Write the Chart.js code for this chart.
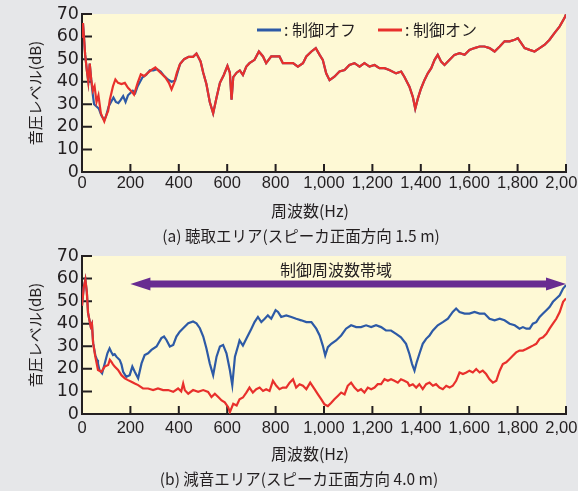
<!DOCTYPE html>
<html lang="ja">
<head>
<meta charset="utf-8">
<title>音圧レベル</title>
<script src="https://cdn.jsdelivr.net/npm/chart.js@4.4.1/dist/chart.umd.min.js"></script>
<style>
  html, body { margin: 0; padding: 0; background: #e6e7e9; }
  #page { position: relative; width: 578px; height: 491px; overflow: hidden; font-family: "Noto Sans CJK JP", sans-serif; color: #231f20; }
  canvas { position: absolute; left: 0; }
  #chart-a { top: 0; }
  #chart-b { top: 242px; }
  .label { position: absolute; left: 0; text-align: center; font-size: 16px; line-height: 20px; white-space: nowrap; }
  .caption { font-size: 15.5px; }
</style>
</head>
<body>
<div id="page">
  <canvas id="chart-a" width="578" height="200"></canvas>
  <canvas id="chart-b" width="578" height="200"></canvas>
  <div class="label" style="top:200px;width:620px">周波数(Hz)</div>
  <div class="label caption" style="top:225px;width:602px">(a) 聴取エリア(スピーカ正面方向 1.5 m)</div>
  <div class="label" style="top:443px;width:620px">周波数(Hz)</div>
  <div class="label caption" style="top:468px;width:598px">(b) 減音エリア(スピーカ正面方向 4.0 m)</div>
</div>
<script>
// Axis ranges and labels
const freqMin = 0;
const freqMax = 2000;
const freqStep = 200;
const levelMin = 0;
const levelMax = 70;
const levelStep = 10;
const seriesLabels = ['制御オフ', '制御オン'];
const bandLabel = '制御周波数帯域';
const bandRange = [200, 2000];
const bandLevel = 57.6;
const bandLabelFreq = 1050;

// (a) listening area, [Hz, dB]; below ~400 Hz the two curves differ
const topOffLow = [[0, 60], [4, 66], [8, 60], [13, 52], [20, 45], [26, 40], [32, 48], [38, 41], [45, 34], [50, 30],
  [60, 29], [70, 28], [80, 25], [92, 23], [100, 25], [110, 29], [120, 31], [130, 33], [140, 31], [150, 30.5],
  [160, 32], [170, 33.6], [180, 31], [190, 34], [200, 35], [210, 36], [220, 35], [230, 38], [240, 40], [250, 42],
  [265, 43], [280, 45], [295, 45], [310, 45.5], [325, 44.5], [340, 42.5], [355, 41], [370, 40], [385, 40.5]];
const topOnLow = [[0, 60], [4, 66], [8, 60], [13, 52], [20, 45], [26, 40], [32, 48], [38, 41], [45, 36], [52, 38],
  [60, 31], [68, 34], [78, 26], [92, 22.4], [100, 25], [108, 27], [115, 32], [128, 38], [138, 41], [149, 39.5],
  [163, 39], [177, 39.5], [190, 37.3], [204, 35.8], [215, 34.3], [230, 39.5], [243, 43.3], [257, 42.5], [273, 44], [290, 45.5],
  [303, 46.3], [317, 44.8], [331, 43.3], [345, 41.8], [359, 39.5], [370, 36.6], [381, 39.5], [392, 44]];
const topShared = [[405, 47.8], [422, 50], [441, 51], [459, 51], [473, 52.5], [490, 49], [501, 44], [514, 39], [528, 31], [542, 26],
  [556, 33], [570, 39.5], [586, 43], [601, 47], [611, 44], [618, 32], [625, 42], [639, 44], [652, 45], [665, 43],
  [679, 46.7], [692, 48.2], [713, 49.7], [731, 53.4], [748, 51.2], [761, 48.2], [782, 51.2], [803, 51.2], [816, 51.2], [830, 48.2],
  [851, 48.2], [872, 48.2], [892, 46.7], [913, 48.2], [927, 51.2], [948, 53.4], [966, 54.9], [982, 51.9], [995, 49.7], [1009, 43.7],
  [1023, 40.7], [1043, 42.2], [1064, 44.5], [1085, 45.2], [1105, 47.4], [1126, 48.2], [1147, 46.7], [1167, 48.2], [1188, 46.7], [1209, 47.4],
  [1229, 46], [1250, 46], [1270, 45.2], [1298, 43.7], [1319, 44.5], [1332, 42.2], [1353, 37.8], [1367, 33.3], [1377, 28.1], [1388, 32.6],
  [1401, 37], [1415, 40.7], [1429, 43.7], [1443, 46], [1457, 49.7], [1470, 51.9], [1484, 48.9], [1498, 47.4], [1519, 49.7], [1539, 51.9],
  [1560, 52.6], [1581, 51.9], [1601, 54.1], [1622, 54.9], [1643, 55.6], [1663, 55.6], [1684, 54.9], [1705, 53.4], [1726, 55.6], [1746, 57.9],
  [1767, 57.9], [1788, 58.6], [1801, 59.3], [1815, 57.1], [1829, 54.9], [1850, 54.1], [1870, 53.4], [1891, 54.9], [1912, 56.4], [1932, 58.6],
  [1953, 61.6], [1974, 64.5], [1994, 68.3], [2000, 69.8]];

// (b) noise-reduction area, [Hz, dB]
const bottomOff = [[0, 48], [7, 56], [14, 59.5], [20, 54], [25, 44.8], [30, 42], [36, 38.8], [41, 40], [46, 31.4], [55, 26],
  [62, 24], [66, 22.4], [72, 19.5], [83, 18], [94, 22.4], [105, 26.9], [114, 29.1], [121, 27.5], [128, 26.1], [135, 26.5],
  [142, 25.4], [156, 23.9], [163, 22], [170, 18.7], [183, 16.5], [197, 17.2], [208, 21], [218, 18.7], [232, 15.8], [246, 22.4],
  [259, 26.1], [273, 26.9], [287, 28.4], [308, 29.9], [328, 33.6], [339, 34.3], [349, 32.8], [363, 29.9], [377, 30.6], [390, 34.3],
  [404, 36.5], [418, 38], [439, 40.2], [459, 41], [473, 40.2], [487, 38], [501, 34.3], [514, 29.1], [528, 22.4], [542, 17.2],
  [556, 25.4], [570, 29.9], [583, 30.6], [597, 26.9], [611, 19.5], [621, 12.8], [632, 25.4], [646, 30.6], [651, 32.6], [665, 30.3],
  [679, 33.3], [700, 37.8], [713, 40.7], [727, 43], [741, 40.7], [755, 42.2], [768, 43.7], [782, 42.2], [800, 46], [810, 45.2],
  [823, 43], [844, 43.7], [865, 43], [885, 42.2], [906, 41.5], [927, 40.7], [948, 40.7], [968, 37.8], [982, 34.8], [995, 30.3],
  [1005, 25.9], [1016, 29.6], [1030, 31.1], [1050, 32.6], [1071, 34.8], [1091, 37.8], [1112, 39.3], [1133, 38.5], [1153, 38.5], [1174, 39.3],
  [1195, 38.5], [1215, 39.3], [1236, 38.5], [1256, 37], [1277, 37], [1298, 35.5], [1318, 34], [1339, 31.1], [1353, 26.6], [1364, 22.1],
  [1374, 19.2], [1383, 22.9], [1394, 26.6], [1408, 31.1], [1422, 33.3], [1436, 34.8], [1450, 37], [1470, 39.3], [1491, 40.7], [1512, 42.2],
  [1532, 45.2], [1546, 46.7], [1560, 45.2], [1581, 44.5], [1601, 44.5], [1622, 45.2], [1643, 44.5], [1663, 44.5], [1684, 42.2], [1705, 41.5],
  [1726, 42.2], [1746, 41.5], [1767, 40], [1788, 39.3], [1808, 37.8], [1822, 38.5], [1836, 37.8], [1850, 37.8], [1863, 40], [1877, 40.7],
  [1891, 43], [1905, 44.5], [1919, 46], [1932, 47.4], [1946, 49.7], [1960, 51.2], [1974, 52.6], [1988, 55.6], [2000, 57.1]];
const bottomOn = [[0, 48], [7, 56], [14, 59.5], [20, 54], [25, 44.8], [30, 42], [36, 38.8], [41, 40], [46, 31.4], [55, 25.4],
  [66, 19.5], [80, 18.7], [94, 21], [108, 21.7], [115, 24], [121, 23.2], [128, 22], [135, 21], [149, 19.5], [163, 17.2],
  [177, 15.8], [190, 15], [204, 14.3], [218, 13.5], [232, 12.8], [252, 11.3], [273, 11.3], [294, 10.6], [314, 11.3], [335, 10.6],
  [356, 10.6], [377, 9.8], [397, 11.3], [410, 10], [418, 13.5], [425, 10.5], [439, 9], [459, 10.6], [480, 9.8], [501, 10.6],
  [521, 9.8], [535, 7.5], [549, 9], [563, 7.5], [577, 6], [590, 5.2], [604, 3], [611, 0.8], [625, 4.5], [639, 3.8],
  [651, 6.5], [665, 7.3], [679, 9.5], [692, 11.7], [706, 9.5], [720, 11], [734, 11.7], [748, 10.2], [761, 11], [775, 10.2],
  [789, 14.7], [803, 12.5], [816, 11], [830, 11.7], [844, 11.7], [858, 13.9], [872, 15.4], [885, 11.7], [899, 13.2], [913, 12.5],
  [927, 11], [943, 13.9], [961, 11], [975, 8.7], [989, 6.5], [1002, 4.3], [1016, 3.5], [1030, 5], [1043, 6.5], [1057, 8],
  [1071, 9.5], [1085, 8.7], [1098, 12.5], [1112, 13.9], [1126, 11.7], [1140, 10.2], [1153, 11], [1167, 9.5], [1181, 11.7], [1195, 11],
  [1209, 11.7], [1222, 13.2], [1236, 13.2], [1250, 15.4], [1264, 14.7], [1277, 15.4], [1291, 14.7], [1305, 13.9], [1318, 15.4], [1332, 14.7],
  [1346, 13.9], [1353, 12.5], [1367, 13.2], [1381, 11.7], [1394, 13.2], [1408, 11], [1422, 13.2], [1436, 13.9], [1450, 12.5], [1463, 13.2],
  [1477, 11.7], [1491, 11], [1505, 12.5], [1519, 11.7], [1532, 12.5], [1546, 14.7], [1560, 18.4], [1574, 17.7], [1588, 18.4], [1601, 19.2],
  [1615, 18.4], [1629, 19.9], [1643, 18.4], [1656, 19.2], [1670, 17.7], [1684, 15.4], [1698, 13.9], [1712, 14.7], [1726, 19.2], [1739, 22.1],
  [1753, 22.9], [1767, 24.4], [1781, 25.9], [1794, 27.3], [1808, 28.1], [1822, 28.1], [1836, 28.8], [1850, 29.6], [1863, 30.3], [1877, 31.1],
  [1891, 33.3], [1905, 34], [1919, 35.5], [1932, 37.8], [1946, 40], [1960, 42.2], [1974, 45.2], [1988, 49.7], [2000, 51.2]];

// Colors and fonts
const offColor = '#2d5aa6';
const onColor = '#e8302c';
const axisColor = '#231f20';
const plotColor = '#fef9d5';
const bandColor = '#682c91';
const jpFont = '"Noto Sans CJK JP", sans-serif';

const toPoints = (pairs) => pairs.map(([x, y]) => ({ x, y }));

// Cream plot background
const plotBackground = {
  id: 'plotBackground',
  beforeDraw(chart) {
    const { ctx, chartArea } = chart;
    ctx.save();
    ctx.fillStyle = plotColor;
    ctx.fillRect(chartArea.left, chartArea.top, chartArea.right - chartArea.left, chartArea.bottom - chartArea.top);
    ctx.restore();
  },
};

// Tick marks pointing into the plot
const inwardTicks = {
  id: 'inwardTicks',
  beforeDatasetsDraw(chart) {
    const { ctx, chartArea, scales } = chart;
    ctx.save();
    ctx.strokeStyle = axisColor;
    ctx.lineWidth = 2;
    ctx.beginPath();
    scales.x.ticks.forEach((t) => {
      if (t.value === freqMin) return;
      const x = scales.x.getPixelForValue(t.value);
      ctx.moveTo(x, chartArea.bottom);
      ctx.lineTo(x, chartArea.bottom - 8);
    });
    scales.y.ticks.forEach((t) => {
      if (t.value === levelMin) return;
      const y = scales.y.getPixelForValue(t.value);
      ctx.moveTo(chartArea.left, y);
      ctx.lineTo(chartArea.left + 10, y);
    });
    ctx.stroke();
    ctx.restore();
  },
};

// Legend inside the top plot: line sample + ": label"
const lineLegend = {
  id: 'lineLegend',
  afterDraw(chart) {
    const { ctx } = chart;
    const starts = [257, 378];
    ctx.save();
    ctx.font = `16px ${jpFont}`;
    ctx.textBaseline = 'middle';
    ctx.fillStyle = axisColor;
    [offColor, onColor].forEach((color, i) => {
      const x = starts[i];
      ctx.strokeStyle = color;
      ctx.lineWidth = 3;
      ctx.beginPath();
      ctx.moveTo(x, 30);
      ctx.lineTo(x + 24, 30);
      ctx.stroke();
      ctx.fillText(`: ${seriesLabels[i]}`, x + 27, 30);
    });
    ctx.restore();
  },
};

// Double arrow for the controlled frequency band
const bandArrow = {
  id: 'bandArrow',
  afterDatasetsDraw(chart) {
    const { ctx, scales } = chart;
    const x0 = scales.x.getPixelForValue(bandRange[0]);
    const x1 = scales.x.getPixelForValue(bandRange[1]);
    const y = scales.y.getPixelForValue(bandLevel);
    const head = 20;
    ctx.save();
    ctx.fillStyle = bandColor;
    ctx.fillRect(x0 + head - 1, y - 3.5, x1 - x0 - 2 * head + 2, 7);
    ctx.beginPath();
    ctx.moveTo(x0, y);
    ctx.lineTo(x0 + head, y - 6.5);
    ctx.lineTo(x0 + head, y + 6.5);
    ctx.closePath();
    ctx.moveTo(x1, y);
    ctx.lineTo(x1 - head, y - 6.5);
    ctx.lineTo(x1 - head, y + 6.5);
    ctx.closePath();
    ctx.fill();
    ctx.font = `16px ${jpFont}`;
    ctx.textAlign = 'center';
    ctx.textBaseline = 'middle';
    ctx.fillStyle = axisColor;
    ctx.fillText(bandLabel, scales.x.getPixelForValue(bandLabelFreq), y - 14);
    ctx.restore();
  },
};

function makeChart(id, offData, onData, tickPadding, extra) {
  const lineStyle = { pointRadius: 0, borderWidth: 2.2, tension: 0, fill: false };
  // eslint-disable-next-line no-new
  new Chart(document.getElementById(id), {
    type: 'line',
    data: {
      datasets: [
        { label: seriesLabels[1], data: toPoints(onData), borderColor: onColor, ...lineStyle },
        { label: seriesLabels[0], data: toPoints(offData), borderColor: offColor, ...lineStyle },
      ],
    },
    options: {
      responsive: false,
      animation: false,
      layout: { padding: { left: 0, right: 12, top: 14, bottom: 0 } },
      plugins: { legend: { display: false }, tooltip: { enabled: false } },
      scales: {
        x: {
          type: 'linear',
          min: freqMin,
          max: freqMax,
          grid: { display: false, drawTicks: false },
          border: { color: axisColor, width: 2 },
          ticks: {
            stepSize: freqStep,
            maxRotation: 0,
            autoSkip: false,
            padding: tickPadding,
            color: axisColor,
            font: { family: '"Liberation Sans", Arial, sans-serif', size: 16.5 },
          },
          afterFit(scale) {
            scale.height = 28;
            scale.paddingLeft = 0;
            scale.paddingRight = 0;
          },
        },
        y: {
          min: levelMin,
          max: levelMax,
          grid: { display: false, drawTicks: false },
          border: { color: axisColor, width: 2 },
          ticks: {
            stepSize: levelStep,
            autoSkip: false,
            padding: 3,
            color: axisColor,
            font: { family: '"DejaVu Sans", sans-serif', size: 17.5 },
          },
          title: {
            display: true,
            text: '音圧レベル(dB)',
            color: axisColor,
            padding: { top: 26, bottom: 0 },
            font: { family: jpFont, size: 15 },
          },
          afterFit(scale) {
            scale.width = 82;
            scale.paddingTop = 0;
            scale.paddingBottom = 0;
          },
        },
      },
    },
    plugins: [plotBackground, inwardTicks, ...extra],
  });
}

makeChart('chart-a', topOffLow.concat(topShared), topOnLow.concat(topShared), 2, [lineLegend]);
makeChart('chart-b', bottomOff, bottomOn, 5, [bandArrow]);
</script>
</body>
</html>
